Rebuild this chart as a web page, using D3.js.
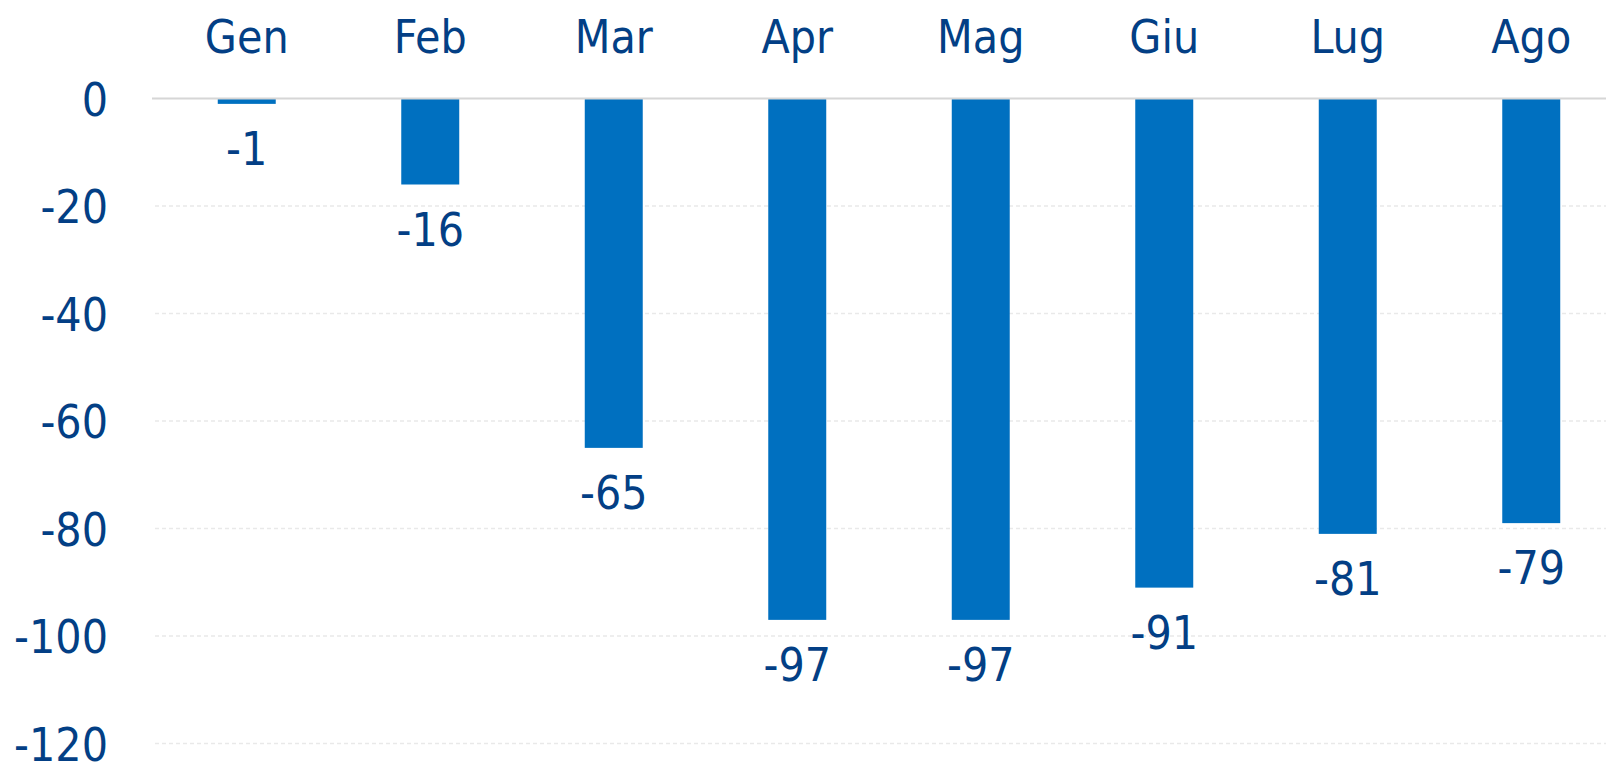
<!DOCTYPE html>
<html>
<head>
<meta charset="utf-8">
<script src="https://cdn.jsdelivr.net/npm/d3@7/dist/d3.min.js"></script>
<style>
  html, body { margin: 0; padding: 0; background: #ffffff; }
  svg { display: block; }
  text { font-family: "DejaVu Sans Condensed", "DejaVu Sans", sans-serif; font-stretch: condensed; fill: #033f85; }
</style>
</head>
<body>
<svg id="chart" width="1606" height="762"></svg>
<script>
// Monthly variation (Italian month abbreviations)
const months = ["Gen", "Feb", "Mar", "Apr", "Mag", "Giu", "Lug", "Ago"];
const values = [-1, -16, -65, -97, -97, -91, -81, -79];
const yTicks = [0, -20, -40, -60, -80, -100, -120];

const width = 1606, height = 762;
const fontSize = 46;
const fmt = d => String(d); // plain hyphen-minus

const svg = d3.select("#chart");

const x = d3.scaleBand()
  .domain(months)
  .range([155, 1623])
  .paddingInner(0)
  .paddingOuter(0);

const y = d3.scaleLinear()
  .domain([0, -120])
  .range([98.5, 743.5]);

const barW = x.bandwidth() * 0.316;

// Gridlines
svg.append("g")
  .selectAll("line")
  .data(yTicks.filter(d => d !== 0))
  .join("line")
  .attr("x1", 155).attr("x2", width)
  .attr("y1", d => y(d)).attr("y2", d => y(d))
  .attr("stroke", "#e9e9e9")
  .attr("stroke-width", 1.3)
  .attr("stroke-dasharray", "4,3");

// Y axis labels
const yAxis = d3.axisLeft(y).tickValues(yTicks).tickSize(0).tickPadding(0).tickFormat(fmt);
const gy = svg.append("g").attr("transform", "translate(108,0)").call(yAxis);
gy.select(".domain").remove();
gy.selectAll("text")
  .attr("font-size", fontSize)
  .attr("dy", "0.36em")
  .style("fill", "#033f85")
  .style("font-family", "'DejaVu Sans Condensed', 'DejaVu Sans', sans-serif");

// Category labels on top
const xAxis = d3.axisTop(x).tickSize(0).tickPadding(0);
const gx = svg.append("g").attr("transform", "translate(0,53)").call(xAxis);
gx.select(".domain").remove();
gx.selectAll("text")
  .attr("font-size", fontSize)
  .attr("dy", "0")
  .style("fill", "#033f85")
  .style("font-family", "'DejaVu Sans Condensed', 'DejaVu Sans', sans-serif");

// Bars
svg.append("g")
  .selectAll("rect")
  .data(months.map((m, i) => ({ m, v: values[i] })))
  .join("rect")
  .attr("x", d => x(d.m) + (x.bandwidth() - barW) / 2)
  .attr("width", barW)
  .attr("y", y(0))
  .attr("height", d => y(d.v) - y(0))
  .attr("fill", "#0070c0");

// Zero line
svg.append("line")
  .attr("x1", 152).attr("x2", width)
  .attr("y1", y(0)).attr("y2", y(0))
  .attr("stroke", "#d6d6d6")
  .attr("stroke-width", 2);

// Value labels below each bar
svg.append("g")
  .selectAll("text")
  .data(months.map((m, i) => ({ m, v: values[i] })))
  .join("text")
  .attr("x", d => x(d.m) + x.bandwidth() / 2)
  .attr("y", d => y(d.v) + 61)
  .attr("text-anchor", "middle")
  .attr("font-size", fontSize)
  .text(d => fmt(d.v));
</script>
</body>
</html>
